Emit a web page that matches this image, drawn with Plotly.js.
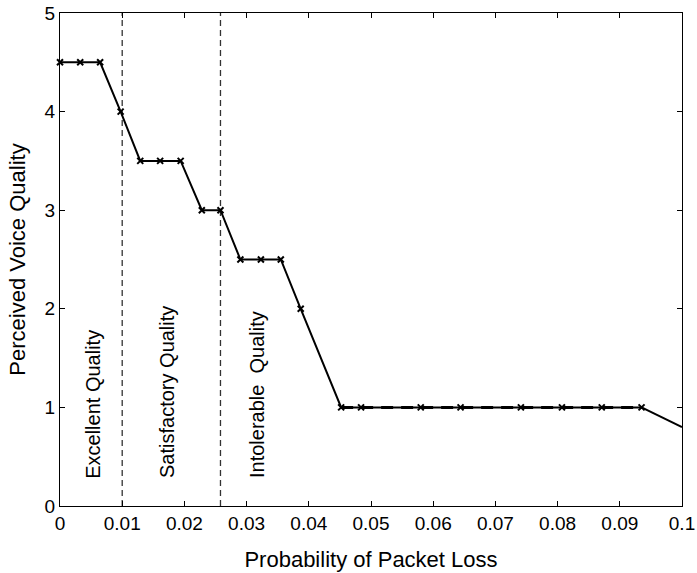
<!DOCTYPE html>
<html>
<head>
<meta charset="utf-8">
<script src="https://cdn.plot.ly/plotly-3.0.1.min.js"></script>
<style>
  html, body { margin: 0; padding: 0; background: #fff; }
  #chart { width: 697px; height: 573px; }
</style>
</head>
<body>
<div id="chart"></div>
<script>
// Measured points (probability of packet loss vs perceived voice quality)
const lossX = [0, 0.00325, 0.00645, 0.00975, 0.0129, 0.0161, 0.0194, 0.0228, 0.0258,
               0.029, 0.0323, 0.0355, 0.0387, 0.0452, 0.0484, 0.0580, 0.0644, 0.0741,
               0.0807, 0.0871, 0.0935];
const qualityY = [4.5, 4.5, 4.5, 4, 3.5, 3.5, 3.5, 3, 3,
                  2.5, 2.5, 2.5, 2, 1, 1, 1, 1, 1,
                  1, 1, 1];
// Continuation of the line beyond the last marker
const tailX = [0.0935, 0.1];
const tailY = [1, 0.8];
// Dashed overlay on the flat region
const flatX = [0.0452, 0.0935];
const flatY = [1, 1];
// Region divider lines
const dividerX = [0.01, 0.0258];
const dividerY = [0, 5];
// Region labels
const regionLabels = ["Excellent Quality", "Satisfactory Quality", "Intolerable  Quality"];
const regionX = [0.0053, 0.0173, 0.0317];
const regionY = [0.26, 0.26, 0.26];
// Ticks
const xTickVals = [0, 0.01, 0.02, 0.03, 0.04, 0.05, 0.06, 0.07, 0.08, 0.09, 0.1];
const xTickText = ["0", "0.01", "0.02", "0.03", "0.04", "0.05", "0.06", "0.07", "0.08", "0.09", "0.1"];
const yTickVals = [0, 1, 2, 3, 4, 5];
const yTickText = ["0", "1", "2", "3", "4", "5"];

const FONT = "'Liberation Sans', Arial, Helvetica, sans-serif";

const traces = [];
dividerX.forEach(function (dx) {
  traces.push({
    x: [dx, dx], y: dividerY, mode: "lines", type: "scatter",
    line: { color: "#333333", width: 1.3, dash: "6px,4px" },
    hoverinfo: "skip", showlegend: false
  });
});
traces.push({
  x: tailX, y: tailY, mode: "lines", type: "scatter",
  line: { color: "#000000", width: 2 }, showlegend: false
});
traces.push({
  x: lossX, y: qualityY, mode: "lines+markers", type: "scatter",
  line: { color: "#000000", width: 2 },
  marker: { symbol: "x-thin", size: 6, color: "#000000", line: { color: "#000000", width: 2 } },
  cliponaxis: false, showlegend: false
});
traces.push({
  x: flatX, y: flatY, mode: "lines", type: "scatter",
  line: { color: "#000000", width: 3, dash: "12px,8px" }, showlegend: false
});

const annotations = regionLabels.map(function (t, i) {
  return {
    x: regionX[i], y: regionY[i], xref: "x", yref: "y",
    text: t, showarrow: false, textangle: -90,
    xanchor: "center", yanchor: "bottom",
    font: { family: FONT, size: 20, color: "#000000" }
  };
});

const axisCommon = {
  showline: true, linecolor: "#000000", linewidth: 1, mirror: "ticks",
  ticks: "inside", ticklen: 5, tickwidth: 1, tickcolor: "#000000",
  showgrid: false, zeroline: false, ticklabeloverflow: "allow",
  tickfont: { family: FONT, size: 19, color: "#000000" }
};

const layout = {
  width: 697, height: 573,
  margin: { l: 60, r: 15, t: 13, b: 67 },
  paper_bgcolor: "#ffffff", plot_bgcolor: "#ffffff",
  showlegend: false,
  xaxis: Object.assign({}, axisCommon, {
    range: [0, 0.1000001], tickvals: xTickVals, ticktext: xTickText,
    title: { text: "Probability of Packet Loss", font: { family: FONT, size: 22, color: "#000000" }, standoff: 18 }
  }),
  yaxis: Object.assign({}, axisCommon, {
    range: [0, 5], tickvals: yTickVals, ticktext: yTickText,
    title: { text: "Perceived Voice Quality", font: { family: FONT, size: 22, color: "#000000" }, standoff: 12 }
  }),
  annotations: annotations
};

Plotly.newPlot("chart", traces, layout, { displayModeBar: false, staticPlot: true });
</script>
</body>
</html>
